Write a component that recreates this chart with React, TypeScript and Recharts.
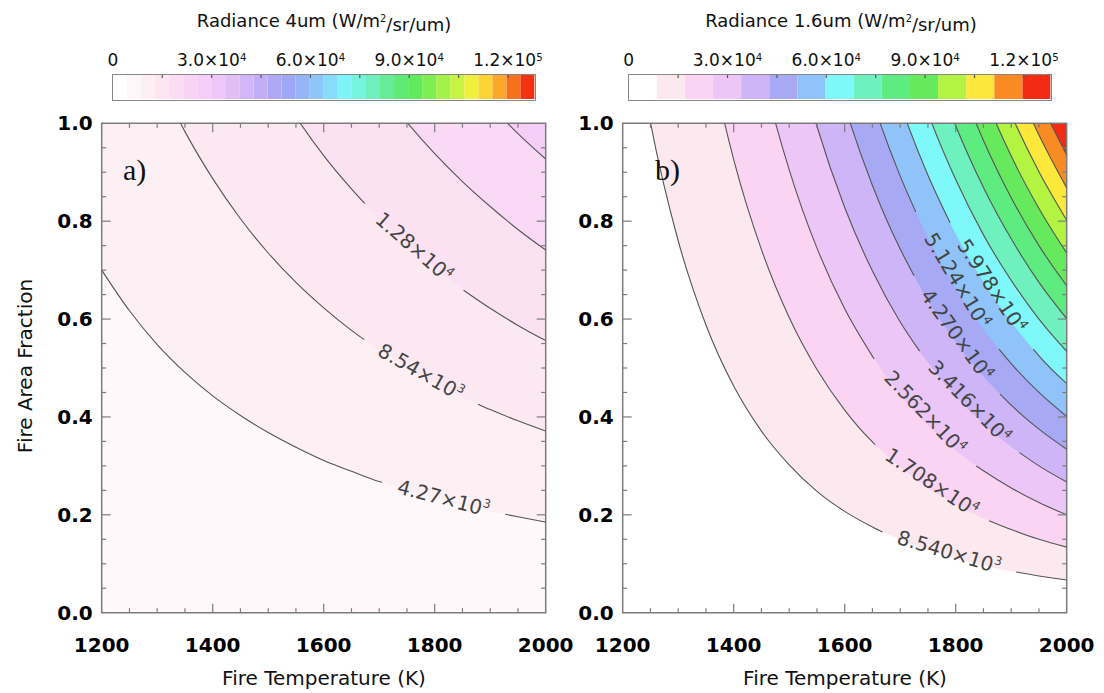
import React from 'react';
import { ComposedChart, Area, Line, XAxis, YAxis, ReferenceArea, ReferenceDot, ReferenceLine, BarChart, Bar } from 'recharts';

const FONT = '"DejaVu Sans", "Liberation Sans", sans-serif';

// fire temperatures (K) the contours are read at
const temps = [1200, 1250, 1300, 1350, 1400, 1450, 1500, 1550, 1600, 1650, 1700, 1750, 1800, 1850, 1900, 1950, 2000];

// a) radiance 4um contours: fire area fraction at each temperature (null = above the plot)
const a4270 = [0.7, 0.617, 0.548, 0.491, 0.443, 0.403, 0.368, 0.338, 0.311, 0.289, 0.268, 0.25, 0.235, 0.22, 0.207, 0.196, 0.185];
const a8540 = [1.4, 1.233, 1.097, 0.983, 0.887, 0.805, 0.735, 0.675, 0.623, 0.577, 0.537, 0.501, 0.469, 0.44, 0.415, 0.392, 0.371];
const a12810 = [null, null, 1.645, 1.474, 1.33, 1.208, 1.103, 1.013, 0.934, 0.866, 0.805, 0.751, 0.704, 0.661, 0.622, 0.587, 0.556];
const a17080 = [null, null, null, null, null, null, null, 1.351, 1.246, 1.154, 1.073, 1.002, 0.938, 0.881, 0.83, 0.783, 0.741];
const a21350 = [null, null, null, null, null, null, null, null, null, null, 1.342, 1.252, 1.173, 1.101, 1.037, 0.979, 0.927];

// b) radiance 1.6um contours
const b8540 = [1.353, 1.002, 0.76, 0.588, 0.463, 0.371, 0.302, 0.248, 0.207, 0.175, 0.149, 0.128, 0.111, 0.0965, 0.0848, 0.075, 0.0668];
const b17080 = [null, null, 1.519, 1.176, 0.926, 0.742, 0.603, 0.497, 0.414, 0.349, 0.297, 0.255, 0.221, 0.193, 0.17, 0.15, 0.134];
const b25620 = [null, null, null, 1.763, 1.39, 1.113, 0.905, 0.745, 0.621, 0.524, 0.446, 0.383, 0.332, 0.29, 0.255, 0.225, 0.2];
const b34160 = [null, null, null, null, null, 1.484, 1.206, 0.994, 0.828, 0.698, 0.594, 0.511, 0.442, 0.386, 0.339, 0.3, 0.267];
const b42700 = [null, null, null, null, null, null, 1.508, 1.242, 1.036, 0.873, 0.743, 0.638, 0.553, 0.483, 0.424, 0.375, 0.334];
const b51240 = [null, null, null, null, null, null, null, 1.491, 1.243, 1.047, 0.892, 0.766, 0.663, 0.579, 0.509, 0.45, 0.401];
const b59780 = [null, null, null, null, null, null, null, null, 1.45, 1.222, 1.04, 0.894, 0.774, 0.676, 0.594, 0.525, 0.468];
const b68320 = [null, null, null, null, null, null, null, null, null, 1.397, 1.189, 1.021, 0.885, 0.772, 0.679, 0.6, 0.534];
const b76860 = [null, null, null, null, null, null, null, null, null, null, 1.337, 1.149, 0.995, 0.869, 0.764, 0.675, 0.601];
const b85400 = [null, null, null, null, null, null, null, null, null, null, 1.486, 1.277, 1.106, 0.965, 0.848, 0.75, 0.668];
const b93940 = [null, null, null, null, null, null, null, null, null, null, null, 1.404, 1.216, 1.062, 0.933, 0.826, 0.735];
const b102480 = [null, null, null, null, null, null, null, null, null, null, null, null, 1.327, 1.158, 1.018, 0.901, 0.802];
const b111020 = [null, null, null, null, null, null, null, null, null, null, null, null, 1.437, 1.255, 1.103, 0.976, 0.868];
const b119560 = [null, null, null, null, null, null, null, null, null, null, null, null, null, 1.351, 1.188, 1.051, 0.935];

// where the contour line is broken for its label: [T start, f start, T end, f end]
type Gap = [number, number, number, number] | null;
const aGaps: Gap[] = [[1705, 0.2665, 1927, 0.2011], [1673, 0.558, 1878, 0.426], [1674, 0.836, 1852, 0.659], null, null];
const bGaps: Gap[] = [
  [1668, 0.1647, 1909, 0.083], [1655, 0.3435, 1860, 0.1881], [1653, 0.5186, 1837, 0.3],
  [1735, 0.5345, 1915, 0.3271], [1725, 0.6887, 1880, 0.4466], [1728, 0.819, 1878, 0.5387],
  [1790, 0.7966, 1940, 0.5383], null, null, null, null, null, null, null,
];

type Lbl = { T: number; f: number; angle: number; text: string; exp: string };
const aLabels: Lbl[] = [
  { T: 1816, f: 0.234, angle: 14.6, text: '4.27×10', exp: '3' },
  { T: 1775, f: 0.492, angle: 29.6, text: '8.54×10', exp: '3' },
  { T: 1763, f: 0.747, angle: 41.2, text: '1.28×10', exp: '4' },
];
const bLabels: Lbl[] = [
  { T: 1788, f: 0.124, angle: 16.6, text: '8.540×10', exp: '3' },
  { T: 1757, f: 0.266, angle: 33.7, text: '1.708×10', exp: '4' },
  { T: 1745, f: 0.409, angle: 46.3, text: '2.562×10', exp: '4' },
  { T: 1825, f: 0.431, angle: 45.5, text: '3.416×10', exp: '4' },
  { T: 1802, f: 0.568, angle: 54, text: '4.270×10', exp: '4' },
  { T: 1803, f: 0.679, angle: 58.7, text: '5.124×10', exp: '4' },
  { T: 1865, f: 0.668, angle: 56.6, text: '5.978×10', exp: '4' },
];

// fill colours of the bands, lowest first
const aBandColors = ['#fef8fa', '#fdf0f4', '#fce8f1', '#fbe1f2', '#f9d9f5', '#f5cef8'];
const bBandColors = ['#ffffff', '#fce9ef', '#fad4f2', '#ecc6f7', '#cdb5f8', '#a8a9f5', '#8fc3f9', '#7ef8f8',
  '#6ff1bf', '#5eeb80', '#66e95d', '#b3f443', '#fce83a', '#fa8b22', '#f42b12'];

// colour bars
const aBarColors = ['#ffffff', '#fef7f9', '#fdeff4', '#fce7f1', '#fbddf3', '#f9d3f6', '#f6ccf8', '#eec6f8',
  '#e2bef7', '#d2b6f7', '#c2aef7', '#aea8f6', '#9ea8f6', '#96b4f8', '#8ec6fa', '#86dcfa', '#7ef4f8', '#76f4dc',
  '#6ef0bc', '#66ec98', '#5eea76', '#60ea5e', '#7eee52', '#a2f248', '#c6f440', '#eef03a', '#fcd434', '#fba82a',
  '#f8701c', '#f43212'];
const aBarStep = 4270;
const bBarStep = 8540;
const barMax = 128100;
const barLabelTicks = [0, 30000, 60000, 90000, 120000];
const barMinorTicks = [15000, 30000, 45000, 60000, 75000, 90000, 105000, 120000];

const xMajor = [1200, 1400, 1600, 1800, 2000];
const xTickMarks = [1250, 1300, 1350, 1400, 1450, 1500, 1550, 1600, 1650, 1700, 1750, 1800, 1850, 1900, 1950];
const yMajor = [0, 0.2, 0.4, 0.6, 0.8, 1.0];
const yTickMarks = [0.05, 0.1, 0.15, 0.2, 0.25, 0.3, 0.35, 0.4, 0.45, 0.5, 0.55, 0.6, 0.65, 0.7, 0.75, 0.8, 0.85, 0.9, 0.95];

type Pt = { T: number; f: number };
const points = (vals: (number | null)[]): Pt[] =>
  temps.flatMap((T, i) => (vals[i] == null ? [] : [{ T, f: vals[i] as number }]));

const splitAtGap = (pts: Pt[], gap: Gap): Pt[][] => {
  if (!gap) return [pts];
  const [t0, f0, t1, f1] = gap;
  return [
    [...pts.filter((p) => p.T < t0), { T: t0, f: f0 }],
    [{ T: t1, f: f1 }, ...pts.filter((p) => p.T > t1)],
  ];
};

const AXIS_GREY = '#7c7c7c';

// short inward tick marks at both ends of a reference line
const EdgeTicks = ({ x1, y1, x2, y2, len, color = AXIS_GREY, ends = 2 }: any) => {
  if (x1 === x2) {
    const top = Math.min(y1, y2);
    const bot = Math.max(y1, y2);
    return (
      <g stroke={color} strokeWidth={1.2}>
        <line x1={x1} y1={top} x2={x1} y2={top + len} />
        {ends === 2 && <line x1={x1} y1={bot} x2={x1} y2={bot - len} />}
      </g>
    );
  }
  const l = Math.min(x1, x2);
  const r = Math.max(x1, x2);
  return (
    <g stroke={color} strokeWidth={1.2}>
      <line x1={l} y1={y1} x2={l + len} y2={y1} />
      <line x1={r} y1={y1} x2={r - len} y2={y1} />
    </g>
  );
};

const ContourLabel = ({ cx, cy, l }: any) => (
  <text
    x={cx}
    y={cy}
    transform={`rotate(${l.angle} ${cx} ${cy})`}
    textAnchor="middle"
    dominantBaseline="central"
    fontSize={20}
    fill="#444"
    fontFamily={FONT}
  >
    {l.text}
    <tspan dy="-0.45em" fontSize="0.6em">{l.exp}</tspan>
  </text>
);

function renderPanel(
  contours: (number | null)[][],
  colors: string[],
  gaps: Gap[],
  labels: Lbl[],
  width: number,
  margin: { top: number; right: number; bottom: number; left: number },
) {
  const dom: [number, number] = [1200, 2000];
  const ydom: [number, number] = [0, 1];
  return (
    <ComposedChart width={width} height={693} margin={margin}>
      <XAxis xAxisId="x" dataKey="T" type="number" domain={dom} allowDataOverflow ticks={xMajor} interval={0}
        tickLine={false} axisLine={false} tickSize={0} tickMargin={25} height={40}
        tick={{ fontSize: 20, fontWeight: 700, fill: '#000', fontFamily: FONT }} />
      <YAxis yAxisId="y" type="number" domain={ydom} allowDataOverflow ticks={yMajor} interval={0}
        tickFormatter={(v: number) => v.toFixed(1)} tickLine={false} axisLine={false} tickSize={0}
        tickMargin={9} width={60} tick={{ fontSize: 20, fontWeight: 700, fill: '#000', fontFamily: FONT }} />
      <ReferenceArea xAxisId="x" yAxisId="y" x1={1200} x2={2000} y1={0} y2={1}
        fill={colors[0]} fillOpacity={1} stroke="none" />
      {contours.map((vals, k) => (
        <Area key={`f${k}`} xAxisId="x" yAxisId="y" data={points(vals)} dataKey="f" type="monotone"
          baseValue={1} fill={colors[k + 1]} fillOpacity={1} stroke="none" isAnimationActive={false} />
      ))}
      {contours.flatMap((vals, k) =>
        splitAtGap(points(vals), gaps[k]).map((seg, s) => (
          <Line key={`l${k}-${s}`} xAxisId="x" yAxisId="y" data={seg} dataKey="f" type="monotone"
            stroke="#555" strokeWidth={1.1} dot={false} activeDot={false} isAnimationActive={false} />
        )),
      )}
      {labels.map((l, i) => (
        <ReferenceDot key={`t${i}`} xAxisId="x" yAxisId="y" x={l.T} y={l.f} r={0}
          shape={(p: any) => <ContourLabel cx={p.cx} cy={p.cy} l={l} />} />
      ))}
      {xTickMarks.map((v) => (
        <ReferenceLine key={`xt${v}`} xAxisId="x" yAxisId="y" x={v}
          shape={(p: any) => <EdgeTicks {...p} len={xMajor.includes(v) ? 9 : 4.5} />} />
      ))}
      {yTickMarks.map((v) => (
        <ReferenceLine key={`yt${v}`} xAxisId="x" yAxisId="y" y={v}
          shape={(p: any) => <EdgeTicks {...p} len={yMajor.includes(v) ? 9 : 4.5} />} />
      ))}
      <ReferenceArea xAxisId="x" yAxisId="y" x1={1200} x2={2000} y1={0} y2={1}
        fill="none" stroke={AXIS_GREY} strokeWidth={1.5} />
    </ComposedChart>
  );
}

const ExpTick = ({ x, y, payload }: any) => {
  const v = payload.value as number;
  const common = { x, y, textAnchor: 'middle' as const, fontSize: 17, fill: '#111', fontFamily: FONT };
  if (v === 0) return <text {...common}>0</text>;
  const e = Math.floor(Math.log10(v));
  const m = (v / Math.pow(10, e)).toFixed(1);
  return (
    <text {...common}>
      {`${m}×10`}
      <tspan dy="-0.5em" fontSize="0.6em">{e}</tspan>
    </text>
  );
};

function renderColorBar(colors: string[], step: number, width: number, left: number, right: number) {
  const row: Record<string, number | string> = { name: 'bar' };
  colors.forEach((_, i) => { row[`s${i}`] = step; });
  return (
    <BarChart layout="vertical" width={width} height={110} data={[row]} barCategoryGap={0}
      margin={{ top: 44, right, bottom: 10.7, left }}>
      <XAxis type="number" orientation="top" domain={[0, barMax]} allowDataOverflow ticks={barLabelTicks} interval={0}
        tickLine={false} axisLine={false} tickSize={0} tickMargin={8.3} height={30} tick={<ExpTick />} />
      <YAxis type="category" dataKey="name" hide />
      {colors.map((c, i) => (
        <Bar key={i} dataKey={`s${i}`} stackId="cb" fill={c} isAnimationActive={false} />
      ))}
      {barMinorTicks.map((v) => (
        <ReferenceLine key={v} x={v} shape={(p: any) => <EdgeTicks {...p} len={4} ends={1} color="#555" />} />
      ))}
    </BarChart>
  );
}

export default function App() {
  const abs = (left: number, top = 0): React.CSSProperties => ({ position: 'absolute', left, top });
  return (
    <div style={{ position: 'absolute', left: 0, top: 0, width: 1104, height: 693, background: '#fff' }}>
      <div style={abs(0)}>
        {renderPanel([a4270, a8540, a12810, a17080, a21350], aBandColors, aGaps, aLabels, 600,
          { top: 123.3, right: 54.3, bottom: 40.3, left: 41.7 })}
      </div>
      <div style={abs(560)}>
        {renderPanel(
          [b8540, b17080, b25620, b34160, b42700, b51240, b59780, b68320, b76860, b85400, b93940, b102480, b111020, b119560],
          bBandColors, bGaps, bLabels, 544, { top: 123.3, right: 37.3, bottom: 40.3, left: 2.7 })}
      </div>
      <div style={abs(0)}>{renderColorBar(aBarColors, aBarStep, 560, 112.9, 25.4)}</div>
      <div style={abs(560)}>{renderColorBar(bBandColors, bBarStep, 544, 68.7, 53.4)}</div>
      <div style={{ position: 'absolute', left: 112.4, top: 73.5, width: 421.7, height: 25.3, border: '1px solid #888', pointerEvents: 'none' }} />
      <div style={{ position: 'absolute', left: 628.2, top: 73.5, width: 421.9, height: 25.3, border: '1px solid #888', pointerEvents: 'none' }} />
      <svg width={1104} height={693} style={{ position: 'absolute', left: 0, top: 0, pointerEvents: 'none' }}>
        <g fontFamily={FONT} fill="#111">
          <text x={324} y={27} fontSize={18} textAnchor="middle">
            Radiance 4um (W/m<tspan dy="-0.5em" fontSize="0.55em">2</tspan><tspan dy="0.5em">/sr/um)</tspan>
          </text>
          <text x={841} y={27} fontSize={18} textAnchor="middle">
            Radiance 1.6um (W/m<tspan dy="-0.5em" fontSize="0.55em">2</tspan><tspan dy="0.5em">/sr/um)</tspan>
          </text>
          <text x={324} y={685} fontSize={20} textAnchor="middle">Fire Temperature (K)</text>
          <text x={845} y={685} fontSize={20} textAnchor="middle">Fire Temperature (K)</text>
          <text x={32} y={366} fontSize={20} textAnchor="middle" transform="rotate(-90 32 366)">Fire Area Fraction</text>
        </g>
        <g fontFamily='"Liberation Serif", "Times New Roman", serif' fill="#111" fontSize={30}>
          <text x={123} y={180}>a)</text>
          <text x={655} y={180}>b)</text>
        </g>
      </svg>
    </div>
  );
}
